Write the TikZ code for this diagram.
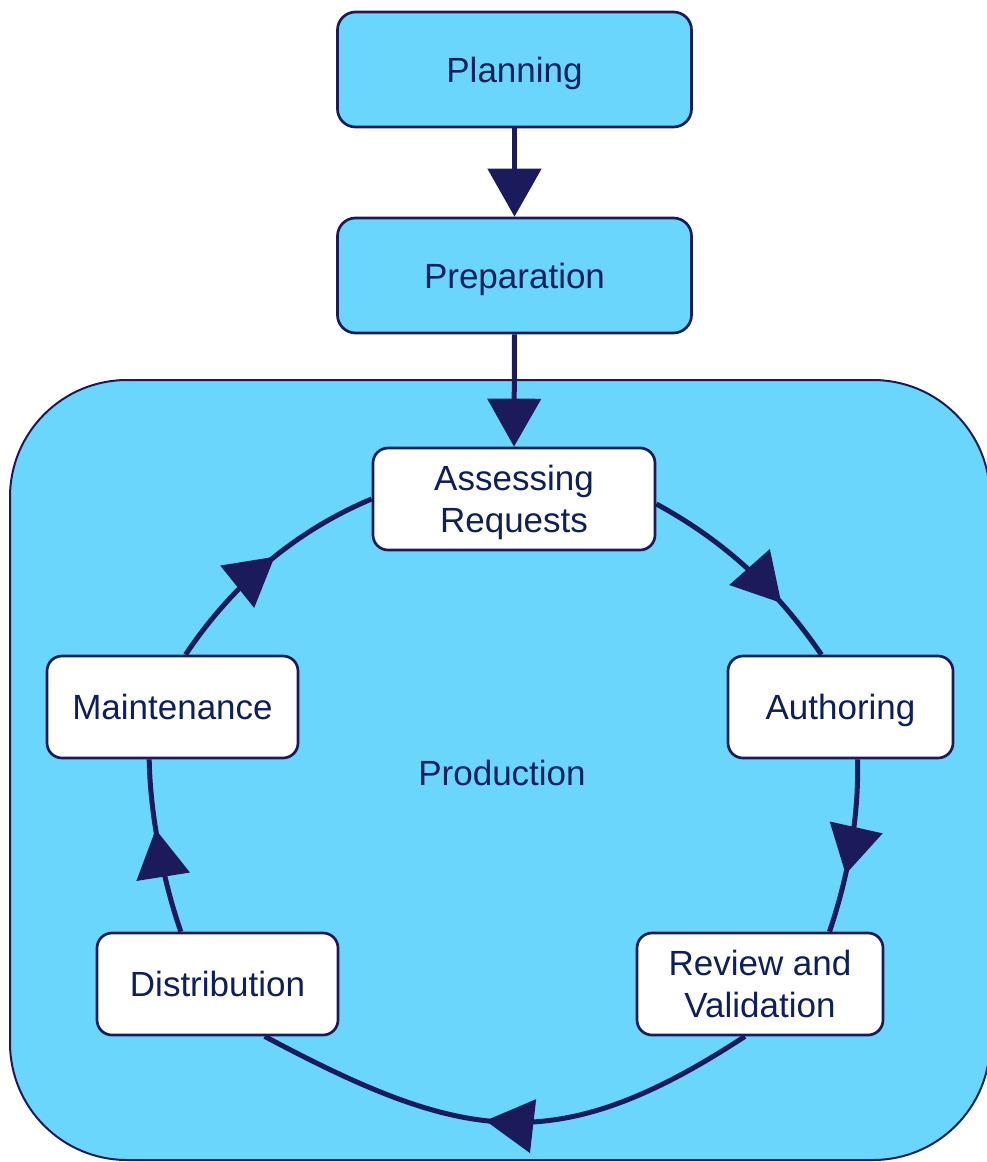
\documentclass[tikz,border=0pt]{standalone}
\usepackage{fontspec}
\setmainfont{Liberation Sans}
\usetikzlibrary{arrows.meta,decorations.markings}
\definecolor{cyanfill}{RGB}{106,214,252}
\definecolor{navy}{RGB}{27,27,92}
\definecolor{txt}{RGB}{14,32,92}
\begin{document}
\begin{tikzpicture}[x=1pt,y=-1pt,
  box/.style={draw=navy, line width=2.7pt, inner sep=0pt, align=center, text=txt,
    font=\fontsize{35}{42}\selectfont, text depth=0pt},
  topbox/.style={box, fill=cyanfill, rounded corners=18pt, minimum width=354pt, minimum height=115pt},
  stepbox/.style={box, fill=white, rounded corners=15pt, minimum height=102pt},
  link/.style={draw=navy, line width=5pt},
  bigtip/.tip={Triangle[length=48pt,width=53pt]},
  midarrow/.style={postaction={decorate},
    decoration={markings, mark=at position #1 with {\arrow[navy]{bigtip}}}}
]
\useasboundingbox (0,0) rectangle (987,1162);
\clip (0,0) rectangle (987,1162);

% production container
\node[draw=navy, line width=2pt, fill=cyanfill, rounded corners=117pt,
  minimum width=980pt, minimum height=780pt, inner sep=0pt] (prod) at (500,770) {};
\node[text=txt, font=\fontsize{35}{42}\selectfont, inner sep=0pt] (prodlabel) at (502,773) {Production};

% top boxes
\node[topbox] (plan) at (514.5,69.5) {Planning};
\node[topbox] (prep) at (514.5,275.5) {Preparation};

% cycle boxes
\node[stepbox, minimum width=282pt] (A)  at (514,499)   {Assessing\\Requests};
\node[stepbox, minimum width=225pt] (Au) at (840.5,707) {Authoring};
\node[stepbox, minimum width=246pt] (R)  at (760,984)   {Review and\\Validation};
\node[stepbox, minimum width=241pt] (D)  at (217.5,984) {Distribution};
\node[stepbox, minimum width=251pt] (M)  at (172.5,707) {Maintenance};

% straight arrows
\draw[link, -{bigtip}] (plan.south) -- (prep.north);
\draw[link, -{bigtip}] (prep.south) -- (A.north);

% cycle connectors
\draw[link, midarrow=0.71] (A.-2) .. controls (726,542) and (777,590) .. (Au.110);
\draw[link, midarrow=0.66] (Au.-72) .. controls (859,818) and (848,877) .. (R.37);
\draw[link, midarrow=0.54] (R.254) .. controls (556,1160) and (463,1142) .. (D.-48);
\draw[link, midarrow=0.60] (D.125) .. controls (163,881) and (150,813) .. (M.246);
\draw[link, midarrow=0.54] (M.76) .. controls (232,585) and (295,531) .. (A.180);
\end{tikzpicture}
\end{document}
